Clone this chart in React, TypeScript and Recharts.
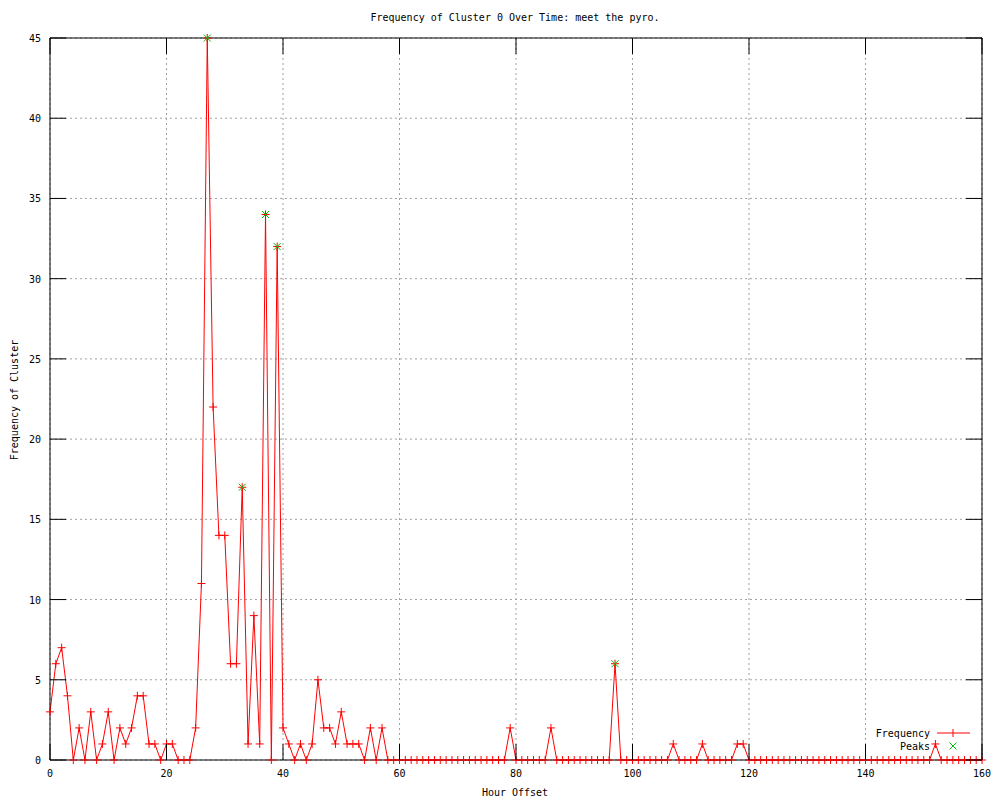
import React from 'react';
import {
  ComposedChart,
  Line,
  XAxis,
  YAxis,
  CartesianGrid,
  Legend,
} from 'recharts';

// hourly counts, hour 0 .. 160
const frequency = [
  3, 6, 7, 4, 0, 2, 0, 3, 0, 1, 3, 0, 2, 1, 2, 4, 4, 1, 1, 0,
  1, 1, 0, 0, 0, 2, 11, 45, 22, 14, 14, 6, 6, 17, 1, 9, 1, 34, 0, 32,
  2, 1, 0, 1, 0, 1, 5, 2, 2, 1, 3, 1, 1, 1, 0, 2, 0, 2, 0, 0,
  0, 0, 0, 0, 0, 0, 0, 0, 0, 0, 0, 0, 0, 0, 0, 0, 0, 0, 0, 2,
  0, 0, 0, 0, 0, 0, 2, 0, 0, 0, 0, 0, 0, 0, 0, 0, 0, 6, 0, 0,
  0, 0, 0, 0, 0, 0, 0, 1, 0, 0, 0, 0, 1, 0, 0, 0, 0, 0, 1, 1,
  0, 0, 0, 0, 0, 0, 0, 0, 0, 0, 0, 0, 0, 0, 0, 0, 0, 0, 0, 0,
  0, 0, 0, 0, 0, 0, 0, 0, 0, 0, 0, 0, 1, 0, 0, 0, 0, 0, 0, 0,
  0,
];

// hours flagged as peaks
const peakHours = [27, 33, 37, 39, 97];

const xTicks = [0, 20, 40, 60, 80, 100, 120, 140, 160];
const yTicks = [0, 5, 10, 15, 20, 25, 30, 35, 40, 45];

const data = frequency.map((v, i) => ({
  x: i,
  freq: v,
  peak: peakHours.includes(i) ? v : null,
}));

const FONT = '"DejaVu Sans Mono", monospace';
const RED = '#ff0000';
const GREEN = '#00c000';
const TICK = 16;

const PlusDot = (props: any) => {
  const { cx, cy } = props;
  if (cx == null || cy == null) return <g />;
  return (
    <g stroke={RED} strokeWidth={1}>
      <line x1={cx - 4} y1={cy} x2={cx + 4} y2={cy} />
      <line x1={cx} y1={cy - 4} x2={cx} y2={cy + 4} />
    </g>
  );
};

const CrossDot = (props: any) => {
  const { cx, cy, payload } = props;
  if (cx == null || cy == null || payload == null || payload.peak == null) return <g />;
  return (
    <g stroke={GREEN} strokeWidth={1}>
      <line x1={cx - 3.5} y1={cy - 3.5} x2={cx + 3.5} y2={cy + 3.5} />
      <line x1={cx - 3.5} y1={cy + 3.5} x2={cx + 3.5} y2={cy - 3.5} />
    </g>
  );
};

const BottomTick = (props: any) => {
  const { x, y, payload } = props;
  return (
    <g>
      <line x1={x} y1={y} x2={x} y2={y - TICK} stroke="#000" />
      <text x={x} y={y + 17} textAnchor="middle" fontFamily={FONT} fontSize={10} fill="#000">
        {payload.value}
      </text>
    </g>
  );
};

const TopTick = (props: any) => {
  const { x, y } = props;
  return <line x1={x} y1={y} x2={x} y2={y + TICK} stroke="#000" />;
};

const LeftTick = (props: any) => {
  const { x, y, payload } = props;
  return (
    <g>
      <line x1={x} y1={y} x2={x + TICK} y2={y} stroke="#000" />
      <text x={x - 9} y={y + 4} textAnchor="end" fontFamily={FONT} fontSize={10} fill="#000">
        {payload.value}
      </text>
    </g>
  );
};

const RightTick = (props: any) => {
  const { x, y } = props;
  return <line x1={x} y1={y} x2={x - TICK} y2={y} stroke="#000" />;
};

const LegendBox = () => (
  <svg width={130} height={30} style={{ display: 'block' }}>
    <text x={70} y={12} textAnchor="end" fontFamily={FONT} fontSize={10} fill="#000">
      Frequency
    </text>
    <line x1={77} y1={8} x2={110} y2={8} stroke={RED} />
    <line x1={93} y1={4} x2={93} y2={12} stroke={RED} />
    <text x={70} y={25} textAnchor="end" fontFamily={FONT} fontSize={10} fill="#000">
      Peaks
    </text>
    <line x1={89.5} y1={17.5} x2={96.5} y2={24.5} stroke={GREEN} />
    <line x1={89.5} y1={24.5} x2={96.5} y2={17.5} stroke={GREEN} />
  </svg>
);

const textStyle: React.CSSProperties = {
  position: 'absolute',
  fontFamily: FONT,
  fontSize: 10,
  color: '#000',
  whiteSpace: 'nowrap',
};

export default function App() {
  return (
    <div style={{ position: 'absolute', left: 0, top: 0, width: 1000, height: 800, background: '#fff' }}>
      <ComposedChart
        width={1000}
        height={800}
        data={data}
        margin={{ top: 37, right: 17, bottom: 0, left: 0 }}
      >
        <CartesianGrid
          xAxisId="b"
          yAxisId="l"
          stroke="#a0a0a0"
          strokeDasharray="2 3"
        />
        <XAxis
          xAxisId="b"
          dataKey="x"
          type="number"
          domain={[0, 160]}
          ticks={xTicks}
          height={40}
          axisLine={{ stroke: '#000' }}
          tickLine={false}
          tickSize={0}
          tickMargin={0}
          tick={<BottomTick />}
          interval={0}
        />
        <XAxis
          xAxisId="t"
          orientation="top"
          dataKey="x"
          type="number"
          domain={[0, 160]}
          ticks={xTicks}
          height={1}
          axisLine={{ stroke: '#000' }}
          tickLine={false}
          tickSize={0}
          tickMargin={0}
          tick={<TopTick />}
          interval={0}
        />
        <YAxis
          yAxisId="l"
          type="number"
          domain={[0, 45]}
          ticks={yTicks}
          width={50}
          axisLine={{ stroke: '#000' }}
          tickLine={false}
          tickSize={0}
          tickMargin={0}
          tick={<LeftTick />}
          interval={0}
        />
        <YAxis
          yAxisId="r"
          orientation="right"
          type="number"
          domain={[0, 45]}
          ticks={yTicks}
          width={1}
          axisLine={{ stroke: '#000' }}
          tickLine={false}
          tickSize={0}
          tickMargin={0}
          tick={<RightTick />}
          interval={0}
        />
        <Line
          xAxisId="b"
          yAxisId="l"
          type="linear"
          dataKey="freq"
          name="Frequency"
          stroke={RED}
          strokeWidth={1}
          dot={<PlusDot />}
          activeDot={false}
          isAnimationActive={false}
        />
        <Line
          xAxisId="t"
          yAxisId="r"
          type="linear"
          dataKey="peak"
          name="Peaks"
          stroke="none"
          dot={<CrossDot />}
          activeDot={false}
          isAnimationActive={false}
        />
        <Legend
          layout="vertical"
          align="center"
          verticalAlign="middle"
          wrapperStyle={{ left: 860, top: 725, width: 130, height: 30 }}
          content={<LegendBox />}
        />
      </ComposedChart>
      <div style={{ ...textStyle, left: 0, width: 1030, top: 12, textAlign: 'center' }}>
        Frequency of Cluster 0 Over Time: meet the pyro.
      </div>
      <div style={{ ...textStyle, left: 0, width: 1030, top: 787, textAlign: 'center' }}>
        Hour Offset
      </div>
      <div
        style={{
          ...textStyle,
          left: 14,
          top: 400,
          transform: 'translate(-50%, -50%) rotate(-90deg)',
        }}
      >
        Frequency of Cluster
      </div>
    </div>
  );
}
